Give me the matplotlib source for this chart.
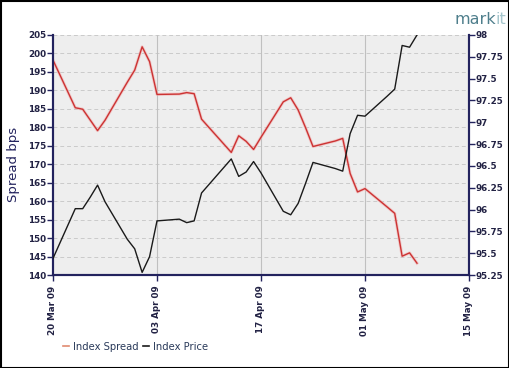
import matplotlib
matplotlib.use("Agg")
import matplotlib.pyplot as plt
import matplotlib.dates as mdates
import pandas as pd
from matplotlib.patches import Rectangle
from matplotlib.lines import Line2D

# business days shown on the chart
dates = ["2009-03-20", "2009-03-23", "2009-03-24", "2009-03-25", "2009-03-26",
         "2009-03-27", "2009-03-30", "2009-03-31", "2009-04-01", "2009-04-02",
         "2009-04-03", "2009-04-06", "2009-04-07", "2009-04-08", "2009-04-09",
         "2009-04-13", "2009-04-14", "2009-04-15", "2009-04-16", "2009-04-17",
         "2009-04-20", "2009-04-21", "2009-04-22", "2009-04-23", "2009-04-24",
         "2009-04-27", "2009-04-28", "2009-04-29", "2009-04-30", "2009-05-01",
         "2009-05-04", "2009-05-05", "2009-05-06", "2009-05-07", "2009-05-08"]

index_spread = [198.2, 185.3, 184.9, 182.0, 179.1,
                181.9, 192.2, 195.5, 201.8, 197.8,
                188.9, 189.0, 189.4, 189.1, 182.2,
                173.2, 177.7, 176.2, 174.0, 177.3,
                186.9, 188.0, 184.7, 179.9, 174.8,
                176.3, 177.0, 167.5, 162.5, 163.4,
                158.4, 156.7, 145.1, 146.0, 143.2]

index_price = [95.44, 96.01, 96.01, 96.14, 96.28,
               96.09, 95.66, 95.55, 95.28, 95.46,
               95.87, 95.89, 95.85, 95.87, 96.19,
               96.58, 96.38, 96.43, 96.55, 96.42,
               95.98, 95.94, 96.07, 96.30, 96.54,
               96.47, 96.44, 96.87, 97.08, 97.07,
               97.30, 97.38, 97.88, 97.86, 98.00]

tick_dates = ["2009-03-20", "2009-04-03", "2009-04-17", "2009-05-01", "2009-05-15"]
spread_ticks = list(range(140, 206, 5))
price_ticks = [95.25, 95.5, 95.75, 96, 96.25, 96.5, 96.75, 97, 97.25, 97.5, 97.75, 98]

navy = "#23235e"
red = "#cc3333"

x = pd.to_datetime(dates)
xt = pd.to_datetime(tick_dates)

fig = plt.figure(figsize=(5.1, 3.68), dpi=100)
fig.patch.set_facecolor("white")
ax = fig.add_axes([0.1039, 0.2527, 0.8157, 0.6522])
ax.set_facecolor("#eeeeee")

ax.plot(x, index_spread, color="#f0b0b0", lw=2.2, alpha=0.6, zorder=3)
ax.plot(x, index_spread, color=red, lw=1.0, zorder=4)
ax.set_ylim(140, 205)
ax.set_yticks(spread_ticks)
ax.set_xlim(xt[0], xt[-1])
ax.set_xticks(xt)
ax.xaxis.set_major_formatter(mdates.DateFormatter("%d %b %y"))

ax2 = ax.twinx()
ax2.plot(x, index_price, color="#1a1a1a", lw=1.0, zorder=4)
ax2.set_ylim(95.25, 98)
ax2.set_yticks(price_ticks)
ax2.set_yticklabels([f"{v:g}" for v in price_ticks])

# grid
for v in spread_ticks[1:]:
    ax.axhline(v, color="#cacaca", lw=0.7, ls=(0, (4, 3)), zorder=1)
for d in xt[1:-1]:
    ax.axvline(d, color="#c0c0c0", lw=0.8, zorder=1)

for a in (ax, ax2):
    a.spines["top"].set_visible(False)
    for side in ("left", "right", "bottom"):
        a.spines[side].set_color(navy)
        a.spines[side].set_linewidth(1.5)
    a.tick_params(colors=navy, labelsize=6.3, length=4, width=1)
    for lab in a.get_yticklabels() + a.get_xticklabels():
        lab.set_fontweight("bold")
        lab.set_color("#222244")

ax.tick_params(axis="y", pad=1)
ax2.tick_params(axis="y", pad=1)
for lab in ax.get_xticklabels():
    lab.set_rotation(90)

ax.set_ylabel("Spread bps", color=navy, fontsize=9.5)
ax.yaxis.set_label_coords(-0.08, 0.46)

# legend
handles = [Line2D([], [], color="#e08a70", lw=1.2),
           Line2D([], [], color="#1a1a1a", lw=1.2)]
leg = fig.legend(handles, ["Index Spread", "Index Price"], loc="lower left",
                 bbox_to_anchor=(0.105, 0.02), ncol=2, frameon=False,
                 fontsize=7.2, handlelength=0.6, handletextpad=0.4,
                 columnspacing=0.5)
for t in leg.get_texts():
    t.set_color("#2a3a5a")

# logo
t1 = fig.text(0.892, 0.935, "mark", color="#4f7f8c", fontsize=11.5, ha="left", va="baseline")
fig.canvas.draw()
bb = t1.get_window_extent().transformed(fig.transFigure.inverted())
fig.text(bb.x1 - 0.003, 0.935, "it", color="#a6c6cd", fontsize=11.5, ha="left", va="baseline")

fig.add_artist(Rectangle((0.001, 0.001), 0.997, 0.996, transform=fig.transFigure,
                         fill=False, edgecolor="black", lw=1.5))

fig.savefig("out.png", dpi=100)
